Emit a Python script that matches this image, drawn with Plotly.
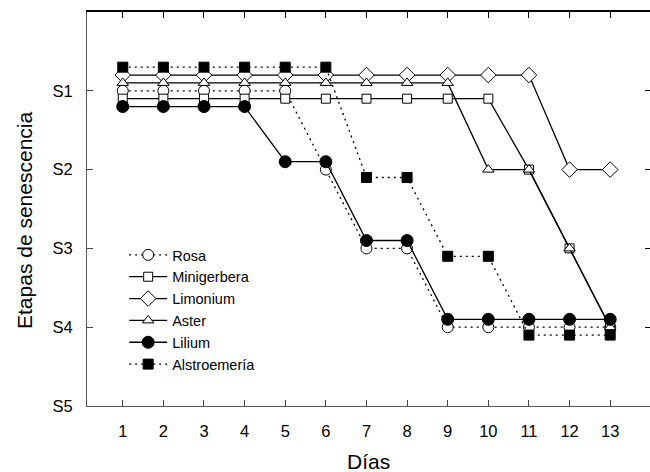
import plotly.graph_objects as go

days = list(range(1, 14))
rosa = [1.0, 1.0, 1.0, 1.0, 1.0, 2.0, 3.0, 3.0, 4.0, 4.0, 4.0, 4.0, 4.0]
minigerbera = [1.1, 1.1, 1.1, 1.1, 1.1, 1.1, 1.1, 1.1, 1.1, 1.1, 2.0, 3.0, 4.0]
limonium = [0.8, 0.8, 0.8, 0.8, 0.8, 0.8, 0.8, 0.8, 0.8, 0.8, 0.8, 2.0, 2.0]
aster = [0.9, 0.9, 0.9, 0.9, 0.9, 0.9, 0.9, 0.9, 0.9, 2.0, 2.0, 3.0, 4.0]
lilium = [1.2, 1.2, 1.2, 1.2, 1.9, 1.9, 2.9, 2.9, 3.9, 3.9, 3.9, 3.9, 3.9]
alstroemeria = [0.7, 0.7, 0.7, 0.7, 0.7, 0.7, 2.1, 2.1, 3.1, 3.1, 4.1, 4.1, 4.1]

stage_vals = [1, 2, 3, 4, 5]
stage_text = ["S1", "S2", "S3", "S4", "S5"]

series = [
    ("Rosa", rosa, "circle", "white", "2px,4px", 11),
    ("Minigerbera", minigerbera, "square", "white", "solid", 9),
    ("Limonium", limonium, "diamond", "white", "solid", 12),
    ("Aster", aster, "triangle-up", "white", "solid", 10),
    ("Lilium", lilium, "circle", "black", "solid", 12),
    ("Alstroemería", alstroemeria, "square", "black", "2px,4px", 10),
]

fig = go.Figure()
for name, vals, sym, fill, dash, size in series:
    fig.add_trace(go.Scatter(
        x=days, y=vals, name=name, mode="lines+markers",
        line=dict(color="black", width=1.3, dash=dash),
        marker=dict(symbol=sym, size=size, color=fill,
                    line=dict(color="black", width=1)),
    ))

# invisible helper trace for mirrored top/right axes
fig.add_trace(go.Scatter(x=days, y=rosa, xaxis="x2", yaxis="y2",
                         mode="markers", marker=dict(opacity=0),
                         showlegend=False, hoverinfo="skip"))

font = "Liberation Sans, Arial, sans-serif"
xr = [0.12, 13.98]
yr = [5, 0]
tickfont = dict(family=font, size=16.5, color="black")

fig.update_layout(
    width=650, height=472,
    margin=dict(l=87, r=0, t=12, b=66),
    paper_bgcolor="white", plot_bgcolor="white",
    font=dict(family=font, size=16, color="black"),
    showlegend=True,
    legend=dict(x=0.066, y=0.424, xanchor="left", yanchor="top",
                bgcolor="rgba(0,0,0,0)", borderwidth=0, itemwidth=38,
                font=dict(family=font, size=14.5, color="black"),
                tracegroupgap=0),
    xaxis=dict(range=xr, tickvals=days, ticks="inside", ticklen=6,
               tickcolor="#444", showline=True, linecolor="#555", linewidth=1,
               showgrid=False, zeroline=False, tickfont=tickfont,
               ticklabelstandoff=10),
    yaxis=dict(range=yr, tickvals=stage_vals, ticktext=stage_text,
               ticks="inside", ticklen=6, tickcolor="#444",
               showline=True, linecolor="#555", linewidth=1,
               showgrid=False, zeroline=False, tickfont=tickfont,
               ticklabelstandoff=10),
    xaxis2=dict(range=xr, overlaying="x", side="top", tickvals=days,
                ticks="inside", ticklen=6, tickcolor="black",
                showline=True, linecolor="black", linewidth=1.5,
                showticklabels=False, showgrid=False, zeroline=False),
    yaxis2=dict(range=yr, overlaying="y", side="right", tickvals=stage_vals,
                ticks="inside", ticklen=5, tickcolor="black",
                showline=False, showticklabels=False, showgrid=False, zeroline=False),
    annotations=[
        dict(text="Días", xref="paper", yref="paper", x=0.5, y=-0.1396,
             xanchor="center", yanchor="middle", showarrow=False,
             font=dict(family=font, size=21, color="black")),
        dict(text="Etapas de senescencia", xref="paper", yref="paper",
             x=-0.112, y=0.472, xanchor="center", yanchor="middle",
             textangle=-90, showarrow=False,
             font=dict(family=font, size=21, color="black")),
    ],
)

fig.write_html("out.html")
